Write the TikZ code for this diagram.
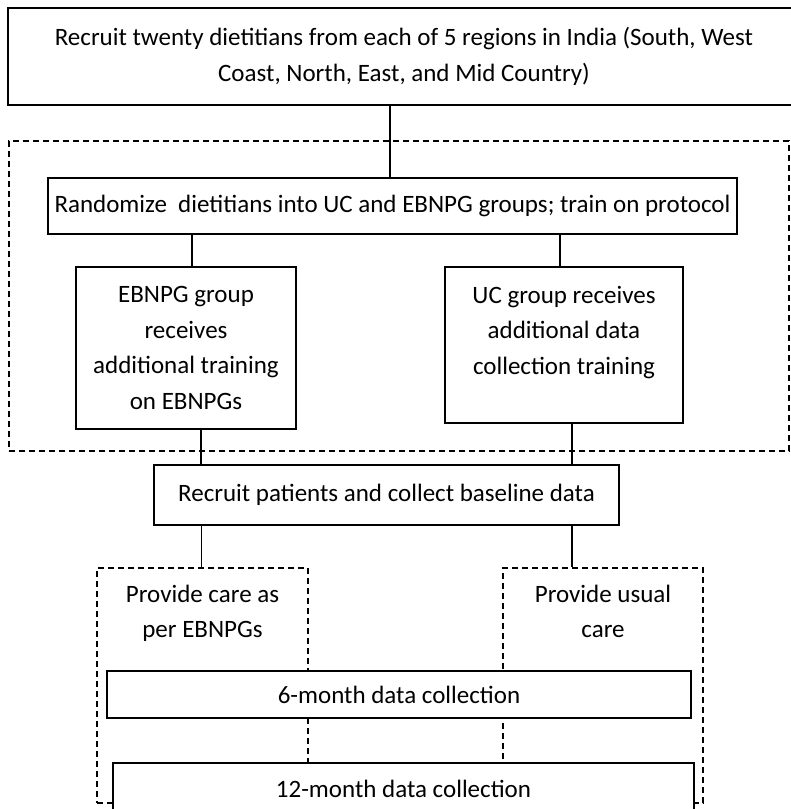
\documentclass[tikz,border=0pt]{standalone}
\usepackage{fontspec}
\setmainfont{Carlito}
\usetikzlibrary{fit,positioning}

\begin{document}
\begin{tikzpicture}
    [
      x=1pt, y=-1pt,
      stage/.style={draw, line width=1.3pt, fill=white, align=center, inner sep=0pt, outer sep=0pt, anchor=north west, font=\fontsize{25}{35.5}\selectfont},
      plate/.style={draw, dash pattern=on 6pt off 4pt, line width=1.1pt, inner sep=0pt},
      caption/.style={align=center, inner sep=0pt, font=\fontsize{25}{35.5}\selectfont},
      link/.style={line width=1.3pt},
    ]

    \useasboundingbox (0,0) rectangle (791,809);
    \clip (0,0) rectangle (791,809);

    \coordinate (outer-nw) at (9,141);
    \coordinate (outer-se) at (789,451);
    \node [plate, fit=(outer-nw) (outer-se)] (plate-train) {};

    \coordinate (care-nw) at (97,568);
    \coordinate (care-se) at (308,803);
    \node [plate, fit=(care-nw) (care-se)] (plate-ebnpg) {};

    \coordinate (usual-nw) at (503,568);
    \coordinate (usual-se) at (703,803);
    \node [plate, fit=(usual-nw) (usual-se)] (plate-uc) {};

    \node [caption, below=17pt of plate-ebnpg.north] (care-text) {Provide care as\\per EBNPGs};

    \node [caption, below=17pt of plate-uc.north] (usual-text) {Provide usual\\care};

    \node (top) [stage, minimum width=792pt, minimum height=97pt] at (8,8)
      {Recruit twenty dietitians from each of 5 regions in India (South, West\\Coast, North, East, and Mid Country)};

    \node (rand) [stage, minimum width=689pt, minimum height=56pt] at (48,178)
      {Randomize\ \ dietitians into UC and EBNPG groups; train on protocol};

    \node (ebnpg) [stage, minimum width=220pt, minimum height=162pt] at (76,267)
      {EBNPG group\\receives\\additional training\\on EBNPGs};

    \node (uc) [stage, minimum width=238pt, minimum height=156pt] at (445,267)
      {UC group receives\\additional data\\collection training\\[-16pt]\strut};

    \node (recruit) [stage, minimum width=465pt, minimum height=60pt] at (154,465)
      {Recruit patients and collect baseline data};

    \node (month-6) [stage, minimum width=584pt, minimum height=47pt] at (107,671)
      {6-month data collection};

    \node (month-12) [stage, minimum width=581pt, minimum height=52pt] at (113,763)
      {12-month data collection};

    \path
    ([xshift=-14pt]top.south) edge [link] ([xshift=-14pt]top.south |- rand.north)

    ([xshift=6pt]ebnpg.north |- rand.south) edge [link] ([xshift=6pt]ebnpg.north)
    ([xshift=-4pt]uc.north |- rand.south) edge [link] ([xshift=-4pt]uc.north)

    ([xshift=15pt]ebnpg.south) edge [link] ([xshift=15pt]ebnpg.south |- recruit.north)
    ([xshift=8pt]uc.south) edge [link] ([xshift=8pt]uc.south |- recruit.north)

    ([xshift=-1pt]plate-ebnpg.north |- recruit.south) edge [link] ([xshift=-1pt]plate-ebnpg.north)
    ([xshift=-31pt]plate-uc.north |- recruit.south) edge [link] ([xshift=-31pt]plate-uc.north)
    ;

  \end{tikzpicture}
\end{document}
